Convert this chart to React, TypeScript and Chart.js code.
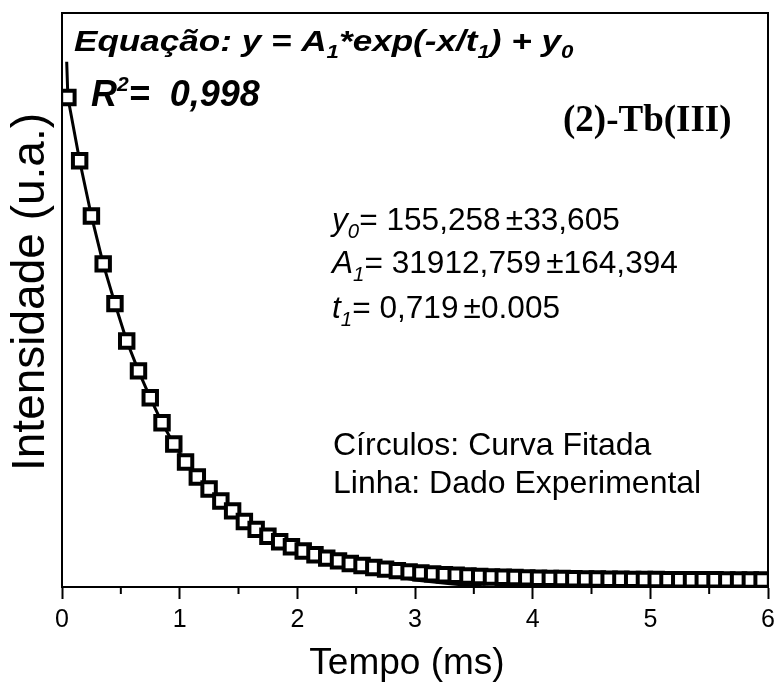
import React, { useEffect, useRef } from "react";
import { Chart, registerables } from "chart.js";

Chart.register(...registerables);

// ---- data ----
const markerTimes = [
  0.05, 0.15, 0.25, 0.35, 0.45, 0.55, 0.65, 0.75, 0.85, 0.95,
  1.05, 1.15, 1.25, 1.35, 1.45, 1.55, 1.65, 1.75, 1.85, 1.95,
  2.05, 2.15, 2.25, 2.35, 2.45, 2.55, 2.65, 2.75, 2.85, 2.95,
  3.05, 3.15, 3.25, 3.35, 3.45, 3.55, 3.65, 3.75, 3.85, 3.95,
  4.05, 4.15, 4.25, 4.35, 4.45, 4.55, 4.65, 4.75, 4.85, 4.95,
  5.05, 5.15, 5.25, 5.35, 5.45, 5.55, 5.65, 5.75, 5.85, 5.95,
];
const markerValues = [
  29900, 26000, 22600, 19650, 17200, 14900, 13060, 11400, 9860, 8560,
  7450, 6530, 5790, 5050, 4440, 3780, 3300, 2880, 2540, 2230,
  1970, 1740, 1530, 1360, 1200, 1070, 950, 850, 760, 680,
  620, 560, 510, 470, 430, 400, 370, 350, 330, 310,
  290, 280, 270, 260, 250, 240, 230, 225, 220, 215,
  210, 205, 200, 200, 195, 195, 190, 190, 185, 185,
];
const lineTimes = [
  0.04, 0.05, 0.15, 0.25, 0.35, 0.45, 0.55, 0.65, 0.75, 0.85, 0.95,
  1.05, 1.15, 1.25, 1.35, 1.45, 1.55, 1.65, 1.75, 1.85, 1.95,
  2.05, 2.15, 2.25, 2.35, 2.45, 2.6, 2.8, 3.0, 3.3, 3.6,
];
const lineValues = [
  32100, 29900, 26000, 22600, 19650, 17200, 14900, 13060, 11400, 9860, 8560,
  7450, 6530, 5790, 5050, 4440, 3780, 3300, 2880, 2540, 2230,
  1970, 1740, 1530, 1360, 1150, 800, 450, 180, -50, -250,
];
const minorTickValues = [0.5, 1.5, 2.5, 3.5, 4.5, 5.5];
const xAxisTitle = "Tempo (ms)";
const yAxisTitle = "Intensidade (u.a.)";
const sampleLabel = "(2)-Tb(III)";
const legendLine1 = "Círculos: Curva Fitada";
const legendLine2 = "Linha: Dado Experimental";
const r2Value = "0,998";
const y0Text = ["155,258", "±33,605"];
const a1Text = ["31912,759", "±164,394"];
const t1Text = ["0,719", "±0.005"];

const SANS = '"Liberation Sans", Arial, sans-serif';
const SERIF = '"Liberation Serif", "Times New Roman", serif';

type Seg = { t: string; size: number; style?: string; weight?: string; dy?: number; family?: string; gap?: number };

function drawRun(ctx: CanvasRenderingContext2D, x: number, y: number, segs: Seg[], sx = 1) {
  ctx.save();
  ctx.translate(x, y);
  ctx.scale(sx, 1);
  let cx = 0;
  for (const s of segs) {
    ctx.font = `${s.style || "normal"} ${s.weight || "normal"} ${s.size}px ${s.family || SANS}`;
    ctx.fillText(s.t, cx, s.dy || 0);
    cx += ctx.measureText(s.t).width + (s.gap || 0);
  }
  ctx.restore();
}

const decorPlugin = {
  id: "decor",
  afterDraw(chart: any) {
    const { ctx, chartArea: a, scales } = chart;
    ctx.save();
    ctx.strokeStyle = "#000";
    ctx.lineWidth = 2;
    ctx.beginPath();
    ctx.moveTo(a.left - 1, a.top);
    ctx.lineTo(a.right, a.top);
    ctx.lineTo(a.right, a.bottom + 1);
    ctx.stroke();
    for (const v of minorTickValues) {
      const px = scales.x.getPixelForValue(v);
      ctx.beginPath();
      ctx.moveTo(px, a.bottom);
      ctx.lineTo(px, a.bottom + 7);
      ctx.stroke();
    }

    ctx.fillStyle = "#000";
    ctx.textAlign = "left";
    ctx.textBaseline = "alphabetic";

    // axis titles
    ctx.save();
    ctx.font = `normal normal 46px ${SANS}`;
    ctx.textAlign = "center";
    ctx.textBaseline = "middle";
    ctx.translate(31, 292);
    ctx.rotate(-Math.PI / 2);
    ctx.fillText(yAxisTitle, 0, 0);
    ctx.restore();

    ctx.save();
    ctx.font = `normal normal 37px ${SANS}`;
    ctx.textAlign = "center";
    ctx.textBaseline = "middle";
    ctx.fillText(xAxisTitle, 407, 664);
    ctx.restore();

    const bi = { style: "italic", weight: "bold" };
    drawRun(ctx, 74, 51, [
      { t: "Equação: y = A", size: 30, ...bi },
      { t: "1", size: 19, dy: 7, ...bi },
      { t: "*exp(-x/t", size: 30, ...bi },
      { t: "1", size: 19, dy: 7, ...bi },
      { t: ") + y", size: 30, ...bi },
      { t: "0", size: 19, dy: 7, ...bi },
    ], 1.17);
    drawRun(ctx, 91, 106, [
      { t: "R", size: 36, ...bi },
      { t: "2", size: 21, dy: -15, ...bi },
      { t: "=  " + r2Value, size: 36, ...bi },
    ]);

    drawRun(ctx, 563, 131, [{ t: sampleLabel, size: 37, weight: "bold", family: SERIF }]);

    const params: [string, string, string[], number][] = [
      ["y", "0", y0Text, 230],
      ["A", "1", a1Text, 273],
      ["t", "1", t1Text, 318],
    ];
    for (const [sym, sub, vals, by] of params) {
      drawRun(ctx, 332, by, [
        { t: sym, size: 31, style: "italic" },
        { t: sub, size: 20, style: "italic", dy: 8 },
        { t: "= " + vals[0], size: 31, gap: 5 },
        { t: vals[1], size: 31 },
      ], 1.02);
    }

    drawRun(ctx, 333, 455, [{ t: legendLine1, size: 32 }]);
    drawRun(ctx, 333, 493, [{ t: legendLine2, size: 32 }]);
    ctx.restore();
  },
};

export default function App() {
  const ref = useRef<HTMLCanvasElement | null>(null);
  useEffect(() => {
    if (!ref.current) return;
    const chart = new Chart(ref.current, {
      type: "line",
      data: {
        datasets: [
          {
            label: "Curva Fitada",
            data: markerTimes.map((x, i) => ({ x, y: markerValues[i] })),
            showLine: false,
            pointStyle: "rect",
            pointRadius: 9.5,
            pointBorderWidth: 4,
            pointBackgroundColor: "#fff",
            pointBorderColor: "#000",
          },
          {
            label: "Dado Experimental",
            data: lineTimes.map((x, i) => ({ x, y: lineValues[i] })),
            borderColor: "#000",
            borderWidth: 3,
            pointRadius: 0,
            tension: 0,
            fill: false,
          },
        ],
      },
      options: {
        animation: false,
        responsive: false,
        devicePixelRatio: 1,
        layout: { autoPadding: false, padding: { left: 8, right: 8, top: 13, bottom: 0 } },
        plugins: { legend: { display: false }, tooltip: { enabled: false } },
        scales: {
          x: {
            type: "linear",
            min: 0,
            max: 6,
            afterFit: (s: any) => { s.height = 99; s.paddingLeft = 0; s.paddingRight = 0; },
            ticks: {
              stepSize: 1,
              autoSkip: false,
              maxRotation: 0,
              color: "#000",
              padding: 6,
              font: { family: SANS, size: 25 },
            },
            grid: {
              display: true,
              drawOnChartArea: false,
              drawTicks: true,
              tickLength: 12,
              tickWidth: 2,
              tickColor: "#000",
              color: "#000",
            },
            border: { display: true, color: "#000", width: 2 },
            title: { display: false, text: xAxisTitle },
          },
          y: {
            type: "linear",
            min: -250,
            max: 35100,
            afterFit: (s: any) => { s.width = 54; s.paddingTop = 0; s.paddingBottom = 0; },
            ticks: { display: false },
            grid: { display: false },
            border: { display: true, color: "#000", width: 2 },
            title: { display: false, text: yAxisTitle },
          },
        },
      },
      plugins: [decorPlugin],
    } as any);
    return () => chart.destroy();
  }, []);
  return (
    <div style={{ position: "absolute", left: 0, top: 0, width: 776, height: 686, background: "#fff" }}>
      <canvas ref={ref} width={776} height={686} style={{ display: "block" }} />
    </div>
  );
}
